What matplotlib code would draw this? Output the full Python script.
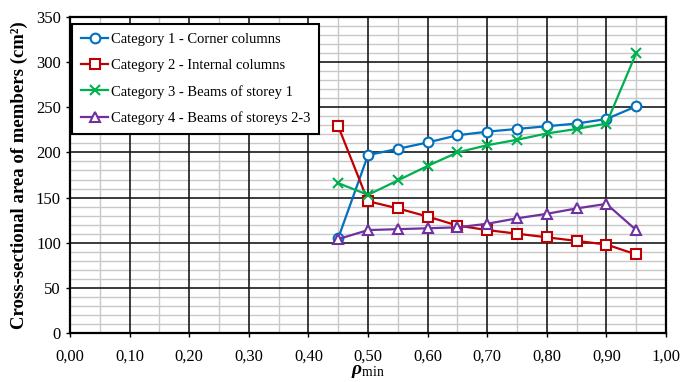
import matplotlib.pyplot as plt
from matplotlib.ticker import MultipleLocator, FuncFormatter

plt.rcParams.update({
    "font.family": "Liberation Serif",
    "font.size": 12,
    "mathtext.fontset": "custom",
    "mathtext.rm": "Liberation Serif",
    "mathtext.it": "Liberation Serif:italic",
    "mathtext.bf": "Liberation Serif:bold",
    "mathtext.bfit": "Liberation Serif:italic:bold",
})

# Data
rho_min = [0.45, 0.50, 0.55, 0.60, 0.65, 0.70, 0.75, 0.80, 0.85, 0.90, 0.95]
corner_columns = [105, 197, 204, 211, 219, 223, 226, 229, 232, 237, 251]
internal_columns = [229, 146, 138, 129, 119, 114, 110, 106, 102, 98, 87]
beams_storey_1 = [166, 153, 169, 185, 200, 208, 214, 221, 226, 232, 310]
beams_storeys_2_3 = [104, 114, 115, 116, 117, 121, 127, 132, 138, 143, 114]

x_major = [i / 10 for i in range(11)]
y_major = list(range(0, 351, 50))

fig = plt.figure(figsize=(6.81, 3.82), dpi=100)
ax = fig.add_axes([70 / 681, 1 - 333 / 382, 596 / 681, 316 / 382])

style = dict(ms=7, mew=1.5, lw=1.6, zorder=3)
ax.plot(rho_min, corner_columns, color="#0070C0", marker="o", mfc="white",
        label="Category 1 - Corner columns", **style)
ax.plot(rho_min, internal_columns, color="#C00000", marker="s", mfc="white",
        label="Category 2 - Internal columns", **style)
ax.plot(rho_min, beams_storey_1, color="#00B050", marker="x",
        label="Category 3 - Beams of storey 1", **style)
ax.plot(rho_min, beams_storeys_2_3, color="#7030A0", marker="^", mfc="white",
        label="Category 4 - Beams of storeys 2-3", **style)

# Axes and grid
ax.set_xlim(0, 1)
ax.set_ylim(0, 350)
ax.set_xticks(x_major)
ax.set_yticks(y_major)
ax.xaxis.set_minor_locator(MultipleLocator(0.05))
ax.yaxis.set_minor_locator(MultipleLocator(10))
ax.xaxis.set_major_formatter(FuncFormatter(lambda v, p: f"{v:.2f}".replace(".", ",")))
ax.grid(which="minor", color="#C8C8C8", lw=1.0)
ax.set_axisbelow(True)
for xv in x_major:
    ax.axvline(xv, color="#1a1a1a", lw=1.2, zorder=1)
for yv in y_major:
    ax.axhline(yv, color="#1a1a1a", lw=1.2, zorder=1)
ax.tick_params(which="minor", length=0)
ax.tick_params(which="major", direction="out", length=3, width=1, labelsize=12)
ax.tick_params(axis="x", pad=8)
for s in ax.spines.values():
    s.set_linewidth(1.6)
    s.set_color("black")
    s.set_zorder(4)

ax.set_ylabel("Cross-sectional area of members (cm²)", fontweight="bold", fontsize=13.5, labelpad=6)
ax.set_xlabel(r"$\mathbfit{\rho}_{\mathrm{min}}$", fontsize=14, labelpad=-1)

leg = ax.legend(loc="upper left", bbox_to_anchor=(0.0034, 0.978), borderaxespad=0,
                frameon=True, fancybox=False, edgecolor="black", framealpha=1,
                fontsize=10.5, handlelength=1.9, handletextpad=0.15,
                labelspacing=0.88, borderpad=0.6)
leg.get_frame().set_linewidth(1.5)
leg.set_zorder(5)

fig.savefig("out.png", dpi=100)
